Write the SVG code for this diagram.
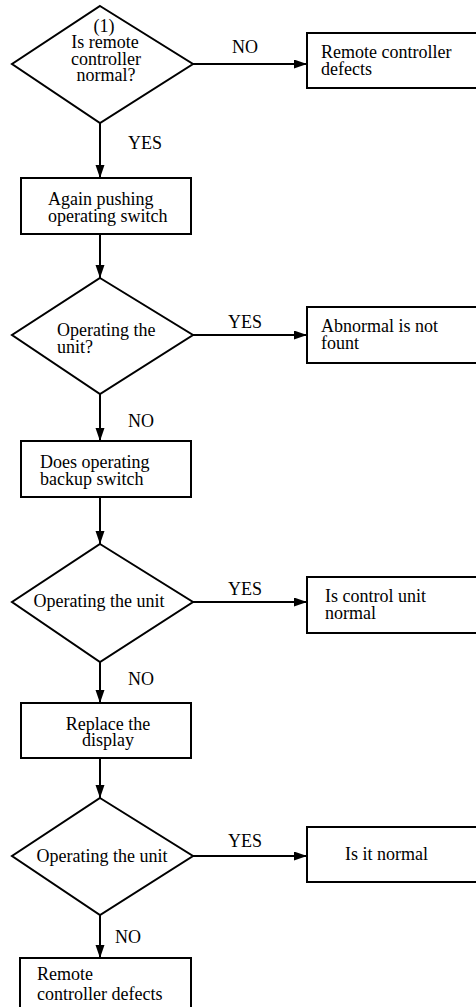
<svg xmlns="http://www.w3.org/2000/svg" width="476" height="1007" viewBox="0 0 476 1007">
<style>
.s{fill:#fff;stroke:#000;stroke-width:2}
.t{font-family:"Liberation Serif","Times New Roman",serif;font-size:18px;fill:#000}
.m{text-anchor:middle}
.c{stroke:#000;stroke-width:2;fill:none;marker-end:url(#ah)}
</style>
<defs>
<marker id="ah" markerUnits="userSpaceOnUse" markerWidth="14" markerHeight="10" refX="13" refY="4.5" orient="auto">
<path d="M0,0 L13,4.5 L0,9 z" fill="#000"/>
</marker>
</defs>
<rect width="476" height="1007" fill="#fff"/>
<g id="connectors">
<line class="c" x1="193" y1="64" x2="307" y2="64"/>
<line class="c" x1="100" y1="123" x2="100" y2="178"/>
<line class="c" x1="100" y1="234" x2="100" y2="278"/>
<line class="c" x1="193" y1="335" x2="307" y2="335"/>
<line class="c" x1="100" y1="394" x2="100" y2="441"/>
<line class="c" x1="100" y1="497" x2="100" y2="544"/>
<line class="c" x1="193" y1="602" x2="307" y2="602"/>
<line class="c" x1="100" y1="662" x2="100" y2="703"/>
<line class="c" x1="100" y1="758" x2="100" y2="798"/>
<line class="c" x1="193" y1="856" x2="307" y2="856"/>
<line class="c" x1="100" y1="915" x2="100" y2="958"/>
<text class="t m" x="245" y="53">NO</text>
<text class="t" x="128" y="149">YES</text>
<text class="t m" x="245" y="328">YES</text>
<text class="t" x="128" y="427">NO</text>
<text class="t m" x="245" y="595">YES</text>
<text class="t" x="128" y="685">NO</text>
<text class="t m" x="245" y="847">YES</text>
<text class="t" x="115" y="943">NO</text>
</g>
<g id="d1">
<polygon class="s" points="100,6 193,64 100,123 12,64"/>
<text class="t m" x="104" y="32">(1)</text>
<text class="t m" x="105" y="48">Is remote</text>
<text class="t m" x="106" y="65">controller</text>
<text class="t m" x="106" y="81">normal?</text>
</g>
<g id="r1">
<rect class="s" x="307" y="33" width="175" height="55"/>
<text class="t" x="321" y="58">Remote controller</text>
<text class="t" x="321" y="75">defects</text>
</g>
<g id="b1">
<rect class="s" x="21" y="178" width="170" height="56"/>
<text class="t" x="48" y="205">Again pushing</text>
<text class="t" x="48" y="222">operating switch</text>
</g>
<g id="d2">
<polygon class="s" points="100,278 193,335 100,394 12,335"/>
<text class="t" x="57" y="336">Operating the</text>
<text class="t" x="57" y="353">unit?</text>
</g>
<g id="r2">
<rect class="s" x="307" y="307" width="175" height="56"/>
<text class="t" x="321" y="332">Abnormal is not</text>
<text class="t" x="321" y="349">fount</text>
</g>
<g id="b2">
<rect class="s" x="21" y="441" width="170" height="56"/>
<text class="t" x="40" y="468">Does operating</text>
<text class="t" x="40" y="485">backup switch</text>
</g>
<g id="d3">
<polygon class="s" points="100,544 193,602 100,662 12,602"/>
<text class="t m" x="99" y="607">Operating the unit</text>
</g>
<g id="r3">
<rect class="s" x="307" y="577" width="175" height="56"/>
<text class="t" x="325" y="602">Is control unit</text>
<text class="t" x="325" y="619">normal</text>
</g>
<g id="b3">
<rect class="s" x="21" y="703" width="170" height="55"/>
<text class="t m" x="108" y="730">Replace the</text>
<text class="t m" x="108" y="746">display</text>
</g>
<g id="d4">
<polygon class="s" points="100,798 193,856 100,915 12,856"/>
<text class="t m" x="102" y="862">Operating the unit</text>
</g>
<g id="r4">
<rect class="s" x="307" y="827" width="175" height="55"/>
<text class="t" x="345" y="860">Is it normal</text>
</g>
<g id="b4">
<rect class="s" x="20" y="958" width="171" height="60"/>
<text class="t" x="37" y="980">Remote</text>
<text class="t" x="37" y="1000">controller defects</text>
</g>
</svg>
